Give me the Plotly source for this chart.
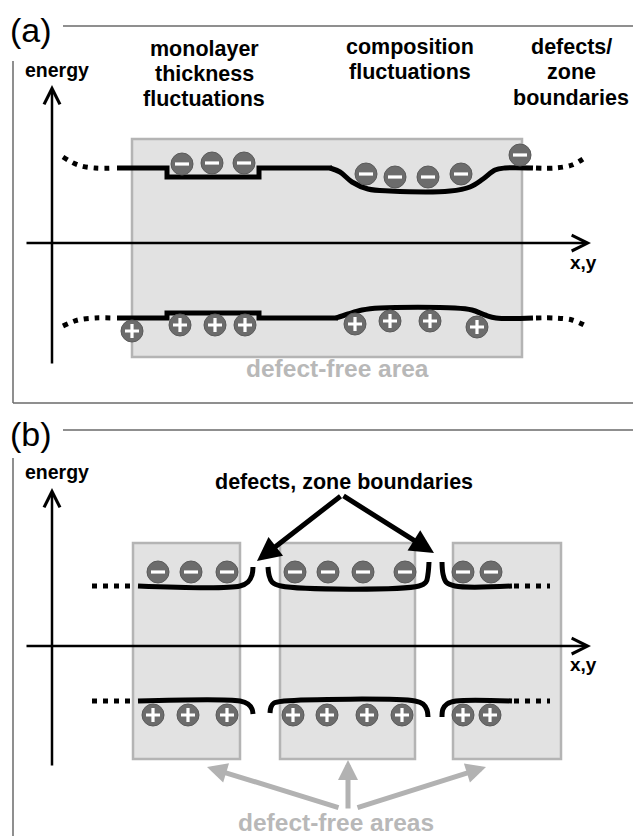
import plotly.graph_objects as go

# ---------------- data (diagram coordinates, pixel space) ----------------
# Panel (a): conduction band (upper) and valence band (lower)
a_cb_step_x = [117, 167, 167, 259, 259, 332]
a_cb_step_y = [168, 168, 177, 177, 168, 168]
a_cb_dip_x = [330, 340, 352, 368, 390, 450, 470, 483, 495, 505, 533]
a_cb_dip_y = [168, 172, 182, 189, 191, 191, 187, 179, 170, 168, 168]
a_cb_dot_left_x = [63, 78, 95, 114]
a_cb_dot_left_y = [157, 165, 168, 168]
a_cb_dot_right_x = [536, 555, 572, 586]
a_cb_dot_right_y = [168, 168, 165, 157]

a_vb_step_x = [117, 167, 167, 259, 259, 338]
a_vb_step_y = [318, 318, 313, 313, 318, 318]
a_vb_bump_x = [336, 348, 362, 380, 455, 472, 485, 496, 533]
a_vb_bump_y = [318, 314, 310, 308, 308, 310, 315, 318, 318]
a_vb_dot_left_x = [63, 78, 95, 114]
a_vb_dot_left_y = [326, 320, 318, 318]
a_vb_dot_right_x = [536, 555, 572, 586]
a_vb_dot_right_y = [318, 318, 320, 326]

a_electron_x = [182, 212, 244, 366, 395, 428, 461, 520]
a_electron_y = [164, 163, 163, 174, 177, 177, 174, 155]
a_hole_x = [132, 180, 215, 245, 355, 390, 430, 477]
a_hole_y = [331, 325, 325, 325, 324, 321, 321, 327]

# Panel (b): three band segments separated by defects / zone boundaries
b_cb_segments = [
    ([138, 240, 248, 252, 253], [586, 586, 582, 575, 567]),
    ([268, 269, 272, 281, 419, 426, 428, 429], [567, 575, 582, 586, 586, 582, 574, 562]),
    ([442, 443, 446, 455, 512], [562, 574, 582, 586, 586]),
]
b_vb_segments = [
    ([138, 240, 248, 252, 253], [701, 701, 704, 709, 714]),
    ([270, 271, 274, 284, 415, 423, 427, 428], [713, 707, 703, 701, 701, 704, 710, 717]),
    ([442, 443, 447, 456, 512], [717, 709, 704, 701, 701]),
]
b_cb_dots = [([92, 133], [586, 586]), ([514, 550], [586, 586])]
b_vb_dots = [([92, 133], [701, 701]), ([514, 550], [701, 701])]

b_electron_x = [158, 191, 227, 295, 328, 363, 405, 463, 491]
b_electron_y = [572] * 9
b_hole_x = [153, 188, 227, 293, 327, 367, 402, 463, 490]
b_hole_y = [715] * 9

# defect-free areas (gray boxes)
a_boxes = [(132, 139, 522, 357)]
b_boxes = [(133, 543, 240, 759), (280, 543, 415, 759), (453, 543, 561, 759)]

# ---------------- figure ----------------
# The page body has an 8px margin, so the plot is offset by 8px; the axis
# ranges start at 8 so that diagram coordinates equal window pixels.
OFF = 8
W, H = 641, 836

fig = go.Figure()

BAND = dict(color="black", width=5)
DOT = dict(color="black", width=5, dash="5px,6px")


def add_line(x, y, line, shape="linear"):
    fig.add_trace(go.Scatter(x=x, y=y, mode="lines", line=dict(**line, shape=shape),
                             hoverinfo="skip", showlegend=False))


# boxes
for (x0, y0, x1, y1) in a_boxes + b_boxes:
    fig.add_shape(type="rect", x0=x0, y0=y0, x1=x1, y1=y1, xref="x", yref="y",
                  fillcolor="#e2e2e2", line=dict(color="#b4b4b4", width=2.5), layer="below")

# frames
frame = dict(color="#6a6a6a", width=1.5)
fig.add_shape(type="line", x0=63, y0=26, x1=W, y1=26, line=frame)
fig.add_shape(type="line", x0=13, y0=61, x1=13, y1=403, line=frame)
fig.add_shape(type="line", x0=13, y0=403, x1=W, y1=403, line=frame)
fig.add_shape(type="line", x0=63, y0=430, x1=W, y1=430, line=frame)
fig.add_shape(type="line", x0=13, y0=458, x1=13, y1=H, line=frame)

# panel a bands
add_line(a_cb_step_x, a_cb_step_y, BAND)
add_line(a_cb_dip_x, a_cb_dip_y, BAND, "spline")
add_line(a_cb_dot_left_x, a_cb_dot_left_y, DOT, "spline")
add_line(a_cb_dot_right_x, a_cb_dot_right_y, DOT, "spline")
add_line(a_vb_step_x, a_vb_step_y, BAND)
add_line(a_vb_bump_x, a_vb_bump_y, BAND, "spline")
add_line(a_vb_dot_left_x, a_vb_dot_left_y, DOT, "spline")
add_line(a_vb_dot_right_x, a_vb_dot_right_y, DOT, "spline")

# panel b bands
for sx, sy in b_cb_segments + b_vb_segments:
    add_line(sx, sy, BAND, "spline")
for sx, sy in b_cb_dots + b_vb_dots:
    add_line(sx, sy, DOT)

# charges
CIRC = "#6c6c6c"


def add_charges(x, y, sign):
    fig.add_trace(go.Scatter(x=x, y=y, mode="markers",
                             marker=dict(size=22, color=CIRC, line=dict(color="#5a5a5a", width=1)),
                             hoverinfo="skip", showlegend=False))
    sym = "line-ew" if sign == "-" else "cross-thin"
    fig.add_trace(go.Scatter(x=x, y=y, mode="markers",
                             marker=dict(symbol=sym, size=10, color="white",
                                         line=dict(color="white", width=3.2)),
                             hoverinfo="skip", showlegend=False))


add_charges(a_electron_x, a_electron_y, "-")
add_charges(a_hole_x, a_hole_y, "+")
add_charges(b_electron_x, b_electron_y, "-")
add_charges(b_hole_x, b_hole_y, "+")


def arrow(x, y, ax, ay, color, width, head, size):
    fig.add_annotation(x=x, y=y, ax=ax, ay=ay, xref="x", yref="y", axref="x", ayref="y",
                       text="", showarrow=True, arrowhead=head, arrowsize=size,
                       arrowwidth=width, arrowcolor=color, standoff=0, startstandoff=0)


# axes arrows
for (vx, vy0, vy1, hy) in [(52, 365, 85, 243), (52, 767, 488, 646)]:
    arrow(vx, vy1, vx, vy0, "black", 2.5, 5, 1.25)
    arrow(591, hy, 25, hy, "black", 2.5, 5, 1.25)

# defect arrows (panel b)
arrow(257, 561, 342, 495, "black", 5, 2, 0.95)
arrow(434, 553, 342, 495, "black", 5, 2, 0.95)

# defect-free arrows (panel b)
GRAY = "#b2b2b2"
arrow(207, 767, 340, 808, GRAY, 5, 2, 0.8)
arrow(348, 760, 348, 810, GRAY, 5, 2, 0.8)
arrow(486, 767, 356, 808, GRAY, 5, 2, 0.8)

# texts
FONT = "Arial, Liberation Sans, sans-serif"


def text(x, y, s, size, color="black", bold=True):
    fig.add_annotation(x=x, y=y, xref="x", yref="y", text=("<b>%s</b>" % s) if bold else s,
                       showarrow=False, font=dict(family=FONT, size=size, color=color),
                       xanchor="center", yanchor="middle")


text(31, 30, "(a)", 34, bold=False)
text(31, 434, "(b)", 34, bold=False)
text(57, 70, "energy", 19.5)
text(57, 472, "energy", 19.5)
text(583, 262, "x,y", 19)
text(583, 664, "x,y", 19)

HS = 21.5
for s, yy in [("monolayer", 49), ("thickness", 74), ("fluctuations", 99)]:
    text(204, yy, s, HS)
for s, yy in [("composition", 47), ("fluctuations", 72)]:
    text(410, yy, s, HS)
for s, yy in [("defects/", 47), ("zone", 72), ("boundaries", 98)]:
    text(571, yy, s, HS)

text(337, 368, "defect-free area", 24.5, color="#b8b8b8")
text(344, 482, "defects, zone boundaries", HS)
text(336, 822, "defect-free areas", 24.5, color="#b8b8b8")

fig.update_layout(
    width=W - OFF, height=H - OFF,
    margin=dict(l=0, r=0, t=0, b=0),
    paper_bgcolor="white", plot_bgcolor="white",
    xaxis=dict(range=[OFF, W], visible=False, fixedrange=True),
    yaxis=dict(range=[H, OFF], visible=False, fixedrange=True),
    showlegend=False,
)

fig.write_html("out.html")
